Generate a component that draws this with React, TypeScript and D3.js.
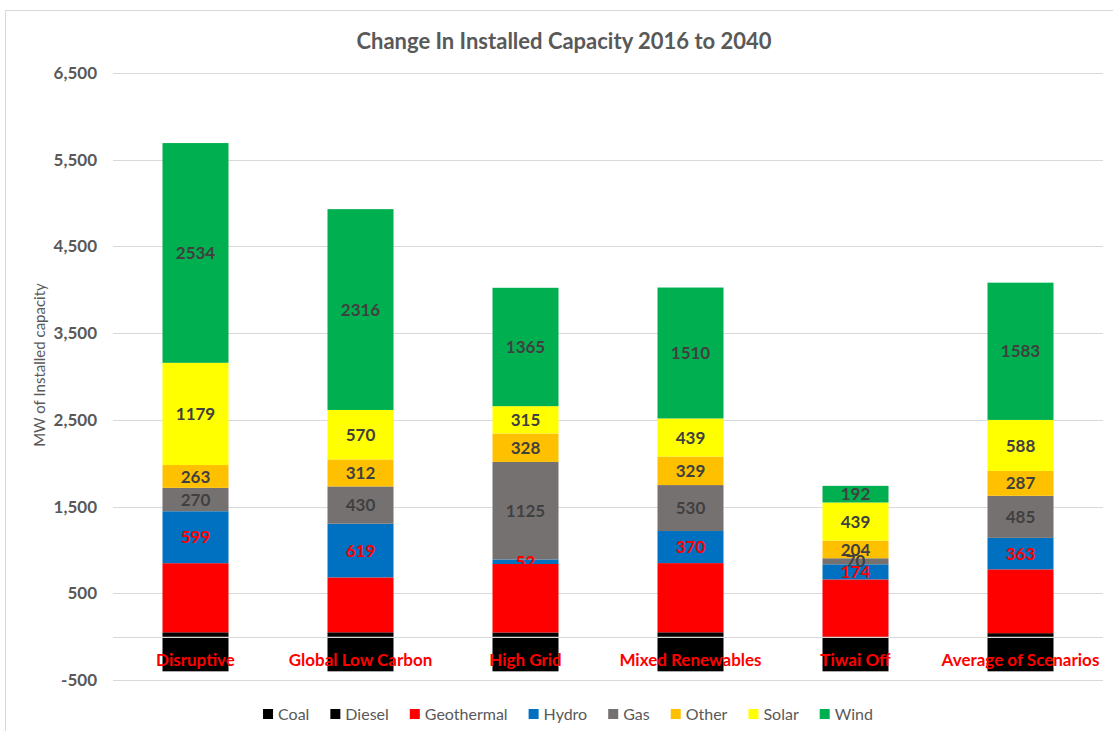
import React, { useEffect, useRef } from 'react'
import * as d3 from 'd3'

const categories = ['Disruptive', 'Global Low Carbon', 'High Grid', 'Mixed Renewables', 'Tiwai Off', 'Average of Scenarios']
const seriesNames = ['Coal', 'Diesel', 'Geothermal', 'Hydro', 'Gas', 'Other', 'Solar', 'Wind']
const coal = [-400, -400, -400, -400, -400, -400]
const diesel = [50, 50, 48, 50, 0, 40]
const geothermal = [797, 633, 790, 798, 660, 736]
const hydro = [599, 619, 52, 370, 174, 363]
const gas = [270, 430, 1125, 530, 70, 485]
const other = [263, 312, 328, 329, 204, 287]
const solar = [1179, 570, 315, 439, 439, 588]
const wind = [2534, 2316, 1365, 1510, 192, 1583]
const yTicks = [-500, 500, 1500, 2500, 3500, 4500, 5500, 6500]

const colors: Record<string, string> = {
  Coal: '#000000',
  Diesel: '#000000',
  Geothermal: '#ff0000',
  Hydro: '#0070c0',
  Gas: '#767171',
  Other: '#ffc000',
  Solar: '#ffff00',
  Wind: '#00b050'
}
// which series get a data label, and in what colour
const labelColors: Record<string, string> = {
  Hydro: '#ff0000',
  Gas: '#404040',
  Other: '#404040',
  Solar: '#404040',
  Wind: '#404040'
}

const FONT = 'Lato, "Open Sans", sans-serif'

const App = () => {
  const svgRef = useRef<SVGSVGElement>(null)
  const width = 1113
  const height = 731

  useEffect(() => {
    const svg = d3.select(svgRef.current)
    svg.selectAll('*').remove()

    const rows = categories.map((c, i) => ({
      cat: c,
      Coal: coal[i],
      Diesel: diesel[i],
      Geothermal: geothermal[i],
      Hydro: hydro[i],
      Gas: gas[i],
      Other: other[i],
      Solar: solar[i],
      Wind: wind[i]
    }))

    // chart frame
    svg
      .append('rect')
      .attr('x', 5.5)
      .attr('y', 10.5)
      .attr('width', width + 20)
      .attr('height', height + 20)
      .attr('fill', '#fff')
      .attr('stroke', '#d9d9d9')

    const x = d3
      .scaleBand()
      .domain(categories)
      .range([113, 1103])
      .paddingInner(0.6)
      .paddingOuter(0.3)

    const y = d3.scaleLinear().domain([-500, 6500]).range([680, 73])

    // gridlines
    svg
      .append('g')
      .selectAll('line')
      .data(yTicks)
      .enter()
      .append('line')
      .attr('x1', 113)
      .attr('x2', 1103)
      .attr('y1', d => Math.round(y(d)) + 0.5)
      .attr('y2', d => Math.round(y(d)) + 0.5)
      .attr('stroke', '#d9d9d9')
      .attr('stroke-width', 1.2)

    svg
      .append('g')
      .selectAll('text')
      .data(yTicks)
      .enter()
      .append('text')
      .attr('x', 97)
      .attr('y', d => y(d))
      .attr('dy', '0.35em')
      .attr('text-anchor', 'end')
      .attr('font-family', FONT)
      .attr('font-size', 17)
      .attr('font-weight', 700)
      .attr('fill', '#595959')
      .text(d => d.toLocaleString('en-US'))

    const stacked = d3
      .stack<any>()
      .keys(seriesNames)
      .offset(d3.stackOffsetDiverging)(rows)

    const layers = svg
      .append('g')
      .selectAll('g')
      .data(stacked)
      .enter()
      .append('g')
      .attr('fill', d => colors[d.key])

    layers
      .selectAll('rect')
      .data(d => d)
      .enter()
      .append('rect')
      .attr('x', d => x(d.data.cat))
      .attr('width', x.bandwidth())
      .attr('y', d => y(Math.max(d[0], d[1])))
      .attr('height', d => Math.abs(y(d[0]) - y(d[1])))

    // category axis line at zero
    svg
      .append('line')
      .attr('x1', 113)
      .attr('x2', 1103)
      .attr('y1', Math.round(y(0)) + 0.5)
      .attr('y2', Math.round(y(0)) + 0.5)
      .attr('stroke', '#d9d9d9')
      .attr('stroke-width', 1.2)

    // data labels
    stacked
      .filter(s => labelColors[s.key])
      .forEach(s => {
        svg
          .append('g')
          .selectAll('text')
          .data(s)
          .enter()
          .append('text')
          .attr('x', d => x(d.data.cat) + x.bandwidth() / 2)
          .attr('y', d => y((d[0] + d[1]) / 2))
          .attr('dy', '0.36em')
          .attr('text-anchor', 'middle')
          .attr('font-family', FONT)
          .attr('font-size', 17)
          .attr('font-weight', 700)
          .attr('fill', labelColors[s.key])
          .text(d => d[1] - d[0])
      })

    // category labels (low position)
    svg
      .append('g')
      .selectAll('text')
      .data(categories)
      .enter()
      .append('text')
      .attr('x', d => x(d) + x.bandwidth() / 2)
      .attr('y', 660)
      .attr('dy', '0.35em')
      .attr('text-anchor', 'middle')
      .attr('font-family', FONT)
      .attr('font-size', 17)
      .attr('font-weight', 700)
      .attr('fill', '#ff0000')
      .text(d => d)

    // title
    svg
      .append('text')
      .attr('x', 564)
      .attr('y', 41)
      .attr('dy', '0.35em')
      .attr('text-anchor', 'middle')
      .attr('font-family', FONT)
      .attr('font-size', 22)
      .attr('font-weight', 700)
      .attr('fill', '#595959')
      .text('Change In Installed Capacity 2016 to 2040')

    // y axis title
    svg
      .append('text')
      .attr('transform', `translate(40, 365) rotate(-90)`)
      .attr('dy', '0.35em')
      .attr('text-anchor', 'middle')
      .attr('font-family', FONT)
      .attr('font-size', 15)
      .attr('fill', '#595959')
      .text('MW of Installed capacity')

    // legend
    const legend = svg.append('g')
    let cursor = 0
    seriesNames.forEach(name => {
      const item = legend.append('g').attr('transform', `translate(${cursor}, 0)`)
      item
        .append('rect')
        .attr('x', 0)
        .attr('y', -5)
        .attr('width', 10)
        .attr('height', 10)
        .attr('fill', colors[name])
      const t = item
        .append('text')
        .attr('x', 15)
        .attr('dy', '0.35em')
        .attr('font-family', FONT)
        .attr('font-size', 16)
        .attr('fill', '#595959')
        .text(name)
      const w = (t.node() as SVGTextElement).getComputedTextLength()
      cursor += 15 + w + 21
    })
    const legendWidth = cursor - 21
    legend.attr('transform', `translate(${568 - legendWidth / 2}, 714)`)
  }, [])

  return (
    <svg
      ref={svgRef}
      width={width}
      height={height}
      style={{ position: 'absolute', left: 0, top: 0, background: '#fff' }}
    />
  )
}

export default App
